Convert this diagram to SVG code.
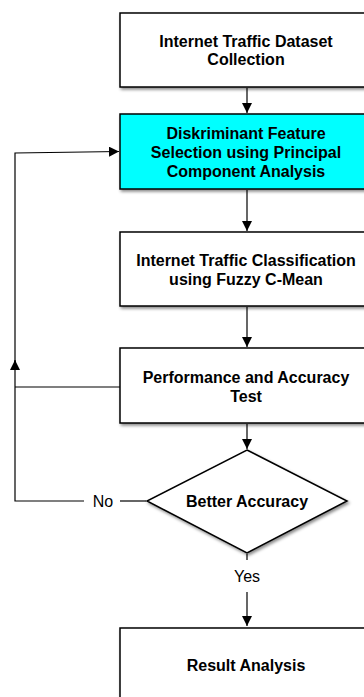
<svg xmlns="http://www.w3.org/2000/svg" width="364" height="697" viewBox="0 0 364 697">
<defs>
<filter id="sh" x="-10%" y="-10%" width="130%" height="130%">
<feDropShadow dx="1.5" dy="2" stdDeviation="1.5" flood-color="#000" flood-opacity="0.45"/>
</filter>
<marker id="ah" viewBox="0 0 10 10" refX="10" refY="5" markerWidth="10" markerHeight="10" markerUnits="userSpaceOnUse" orient="auto">
<path d="M0,0 L10,5 L0,10 Z" fill="#000"/>
</marker>
</defs>
<style>
.box{stroke:#000;stroke-width:1.5;fill:#fff;filter:url(#sh)}
.t{font-family:"Liberation Sans",Arial,sans-serif;font-size:16px;font-weight:bold;text-anchor:middle;fill:#000}
.l{font-family:"Liberation Sans",Arial,sans-serif;font-size:16px;text-anchor:middle;fill:#000}
.c{stroke:#000;stroke-width:1.2;fill:none}
</style>
<rect width="364" height="697" fill="#fff"/>
<g id="connectors">
<line class="c" x1="247" y1="88" x2="247" y2="113" marker-end="url(#ah)"/>
<line class="c" x1="247" y1="190" x2="247" y2="231" marker-end="url(#ah)"/>
<line class="c" x1="247" y1="307" x2="247" y2="347" marker-end="url(#ah)"/>
<line class="c" x1="247" y1="424" x2="247" y2="449" marker-end="url(#ah)"/>
<line class="c" x1="247" y1="554" x2="247" y2="560"/>
<line class="c" x1="247" y1="592" x2="247" y2="626" marker-end="url(#ah)"/>
<polyline class="c" points="146,501 120,501"/>
<polyline class="c" points="84,501 15,501 15,361"/>
<line class="c" x1="15" y1="370" x2="15" y2="360" marker-end="url(#ah)"/>
<polyline class="c" points="15,362 15,153 119,151.5" marker-end="url(#ah)"/>
<line class="c" x1="120" y1="387" x2="15" y2="387"/>
<text class="l" x="103" y="506.5">No</text>
<text class="l" x="247" y="581.5">Yes</text>
</g>
<g id="n1">
<rect class="box" x="120" y="13" width="260" height="74"/>
<text class="t" x="246" y="46.5">Internet Traffic Dataset</text>
<text class="t" x="246" y="65">Collection</text>
</g>
<g id="n2">
<rect class="box" x="120" y="114" width="260" height="75" style="fill:#00ffff"/>
<text class="t" x="246" y="139">Diskriminant Feature</text>
<text class="t" x="246" y="157.5">Selection using Principal</text>
<text class="t" x="246" y="176.5">Component Analysis</text>
</g>
<g id="n3">
<rect class="box" x="120" y="232" width="260" height="74"/>
<text class="t" x="246" y="265.5">Internet Traffic Classification</text>
<text class="t" x="246" y="285">using Fuzzy C-Mean</text>
</g>
<g id="n4">
<rect class="box" x="120" y="348" width="260" height="75"/>
<text class="t" x="246" y="383">Performance and Accuracy</text>
<text class="t" x="246" y="401.5">Test</text>
</g>
<g id="n5">
<polygon class="box" points="247,450 347,501 247,553 147,501"/>
<text class="t" x="247" y="506.5">Better Accuracy</text>
</g>
<g id="n6">
<rect class="box" x="120" y="628" width="260" height="90"/>
<text class="t" x="246" y="670.5">Result Analysis</text>
</g>
</svg>
